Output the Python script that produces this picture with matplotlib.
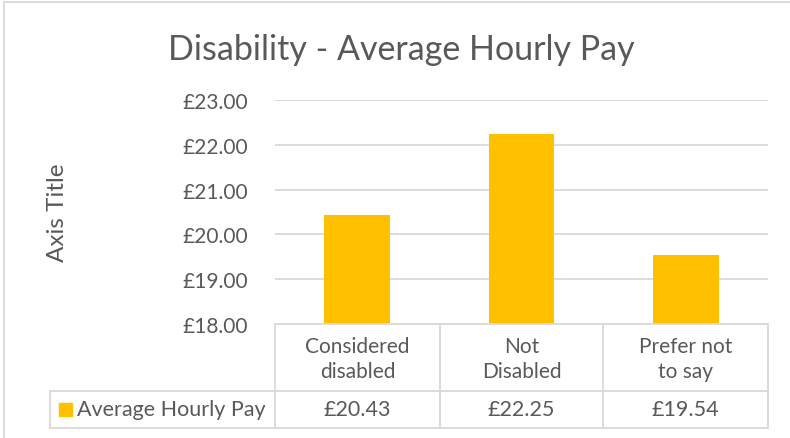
import matplotlib
matplotlib.use("Agg")
import matplotlib.pyplot as plt
from matplotlib.lines import Line2D
from matplotlib.patches import Rectangle

categories = ["Considered\ndisabled", "Not\nDisabled", "Prefer not\nto say"]
values = [20.43, 22.25, 19.54]
series_name = "Average Hourly Pay"
yticks = [18, 19, 20, 21, 22, 23]
title = "Disability - Average Hourly Pay"

W, H = 790, 439
fig = plt.figure(figsize=(W / 100, H / 100), dpi=100)
FONT = ["Lato", "DejaVu Sans"]
TXT = "#595959"
GRID = "#D9D9D9"
BAR = "#FFC000"

def fx(px):
    return px / W

def fy(py):
    return 1 - py / H

left, right, top, bottom = 275, 768, 101, 325
ax = fig.add_axes([fx(left), fy(bottom), fx(right) - fx(left), fy(top) - fy(bottom)])
x = list(range(len(categories)))
ax.bar(x, values, width=0.4, color=BAR, zorder=3)
ax.set_xlim(-0.5, len(categories) - 0.5)
ax.set_ylim(yticks[0], yticks[-1])
ax.set_yticks(yticks)
ax.set_yticklabels([f"£{v:.2f}" for v in yticks], fontsize=15, color=TXT, family=FONT)
ax.tick_params(axis="y", length=0, pad=19.5)
ax.set_xticks([])
for s in ax.spines.values():
    s.set_visible(False)
ax.yaxis.grid(True, color=GRID, linewidth=1.3, zorder=0)
ax.set_axisbelow(True)

fig.text(fx(57), fy(213), "Axis Title", rotation=90, ha="center", va="center",
         fontsize=17.5, color=TXT, family=FONT)
fig.text(fx(401), fy(50), title, ha="center", va="center", fontsize=24.5, color=TXT, family=FONT)

# data table
col_edges = [275, 440, 603, 768]
row_top, row_mid, row_bot = 325, 392, 429
table_left = 50

def hline(y, x0, x1):
    fig.add_artist(Line2D([fx(x0), fx(x1)], [fy(y), fy(y)], color=GRID, lw=1.3))

def vline(xp, y0, y1):
    fig.add_artist(Line2D([fx(xp), fx(xp)], [fy(y0), fy(y1)], color=GRID, lw=1.3))

hline(row_top, col_edges[0], col_edges[-1])
hline(row_mid, table_left, col_edges[-1])
hline(row_bot, table_left, col_edges[-1])
for xe in col_edges:
    vline(xe, row_top, row_bot)
vline(table_left, row_mid, row_bot)

for i, cat in enumerate(categories):
    cx = (col_edges[i] + col_edges[i + 1]) / 2
    fig.text(fx(cx), fy((row_top + row_mid) / 2 + 1), cat, ha="center", va="center",
             fontsize=15, color=TXT, family=FONT, linespacing=1.35)
    fig.text(fx(cx), fy((row_mid + row_bot) / 2), f"£{values[i]:.2f}", ha="center", va="center",
             fontsize=15.5, color=TXT, family=FONT)

# legend key in table
fig.add_artist(Rectangle((fx(59), fy(417)), fx(13), fy(404) - fy(417), color=BAR, transform=fig.transFigure))
fig.text(fx(77), fy((row_mid + row_bot) / 2), series_name, ha="left", va="center",
         fontsize=15.5, color=TXT, family=FONT)

# chart border (left & top visible)
fig.add_artist(Line2D([fx(4), fx(4)], [fy(3), fy(439)], color=GRID, lw=1.3))
fig.add_artist(Line2D([fx(4), fx(790)], [fy(3), fy(3)], color=GRID, lw=1.3))

fig.savefig("out.png", dpi=100)
